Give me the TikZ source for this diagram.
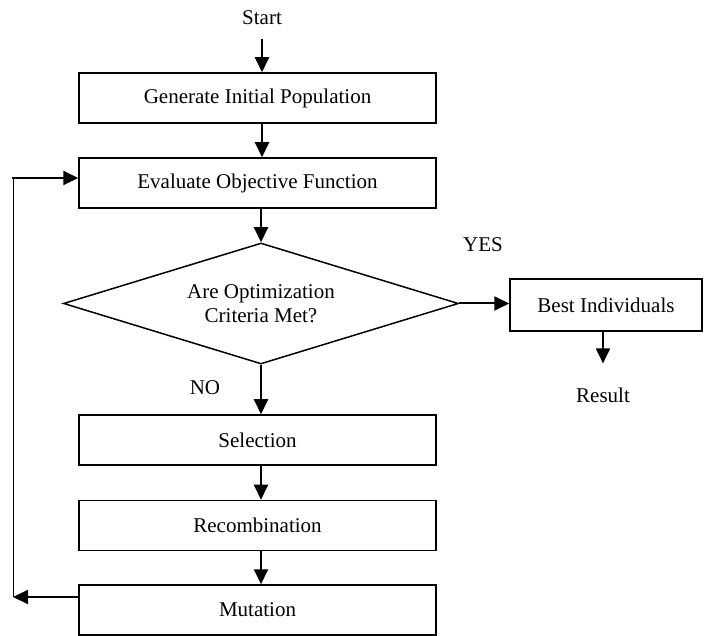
\documentclass[tikz,border=0pt]{standalone}
\usepackage{fontspec}
\setmainfont{Liberation Serif}
\usetikzlibrary{arrows.meta,shapes.geometric}
\begin{document}
\begin{tikzpicture}[x=1pt,y=-1pt,
  font=\fontsize{21}{24}\selectfont,
  stepbox/.style={draw, line width=1.5pt, minimum width=357pt, minimum height=50pt, inner sep=0pt},
  decision/.style={diamond, draw, line width=1.5pt, minimum width=395pt, minimum height=121pt,
                   aspect=3.26, inner sep=0pt, align=center},
  flow/.style={line width=2pt, -{Triangle[length=15pt,width=14pt]}},
  plain/.style={inner sep=0pt}
]
\useasboundingbox (0,0) rectangle (705,636);

% nodes
\node[plain] (start) at (262,18) {Start};
\node[stepbox] (gen) at (257.5,98) {Generate Initial Population};
\node[stepbox] (eval) at (257.5,183) {Evaluate Objective Function};
\node[decision] (crit) at (261,303.5) {Are Optimization\\Criteria Met?};
\node[stepbox, minimum width=192pt, minimum height=52pt] (best) at (606,305) {Best Individuals};
\node[plain] (result) at (603,395) {Result};
\node[plain] (yes) at (483,245) {YES};
\node[plain] (no) at (205,388) {NO};
\node[stepbox] (sel) at (257.5,440) {Selection};
\node[stepbox] (rec) at (257.5,525.5) {Recombination};
\node[stepbox] (mut) at (257.5,610) {Mutation};
\coordinate (fbtop) at (13,178);
\coordinate (fbbot) at (13,597);

% main flow
\draw[flow] ([yshift=-14pt]start.south) -- (start |- gen.north);
\draw[flow] (start |- gen.south) -- (start |- eval.north);
\draw[flow] (crit.north |- eval.south) -- (crit.north);
\draw[flow] (crit.east) -- (crit.east -| best.west);
\draw[flow] (result |- best.south) -- ([yshift=24pt]result.north);
\draw[flow] (crit.south) -- (crit.south |- sel.north);
\draw[flow] (crit.south |- sel.south) -- (crit.south |- rec.north);
\draw[flow] (crit.south |- rec.south) -- (crit.south |- mut.north);

% loop back to evaluation
\draw[flow] (mut.west |- fbbot) -- (fbbot);
\draw[line width=1pt] (fbbot) -- (fbtop);
\draw[flow] ([xshift=-1pt]fbtop) -- (fbtop -| eval.west);
\end{tikzpicture}
\end{document}
